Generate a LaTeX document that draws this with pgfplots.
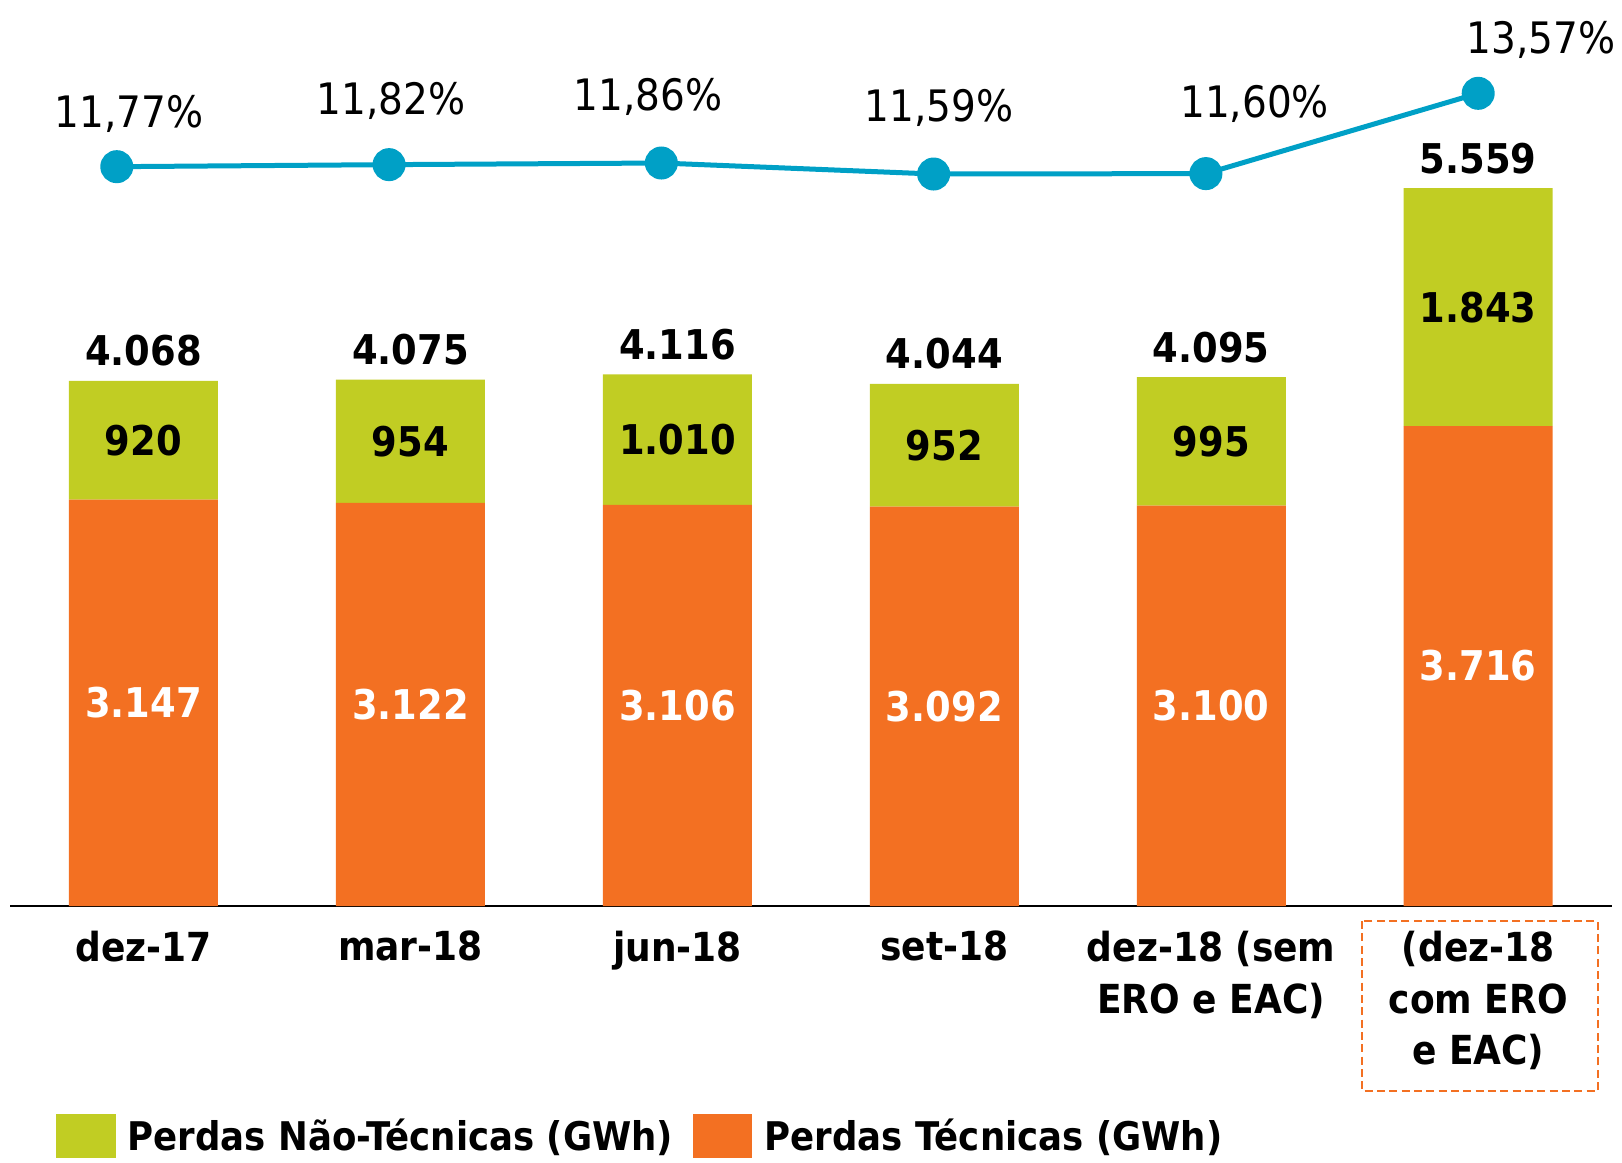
\documentclass[border=0pt]{standalone}
\usepackage{pgfplots}
\pgfplotsset{compat=1.18}
\usepackage{fontspec}
\setmainfont{DejaVu Sans}[FakeStretch=0.9]
\definecolor{tec}{RGB}{243,112,34}
\definecolor{ntec}{RGB}{193,205,35}
\definecolor{linec}{RGB}{0,160,198}
\newcommand{\lblfont}{\bfseries\fontsize{12.3}{15.5}\selectfont}
\newcommand{\tickfont}{\bfseries\fontsize{12}{15.5}\selectfont}
\newcommand{\legfont}{\bfseries\fontsize{11.85}{14}\selectfont}
\newcommand{\pctfont}{\fontsize{13}{15}\selectfont}
\begin{document}
\begin{tikzpicture}
\path[use as bounding box] (-3pt,-76.8pt) rectangle (483.6pt,271.8pt);
\begin{axis}[
  at={(0,0)}, anchor=south west,
  scale only axis, width=480.5pt, height=271.8pt,
  xmin=-0.5, xmax=5.5, ymin=0, ymax=7016,
  ybar stacked, bar width=44.7pt,
  axis x line*=bottom, axis y line=none,
  x axis line style={line width=0.6pt, -},
  xtick={0,...,5}, major tick length=0pt,
  xticklabels={dez-17, mar-18, jun-18, set-18, {dez-18 (sem\\ERO e EAC)}, {(dez-18\\com ERO\\e EAC)}},
  xticklabel style={font=\tickfont, align=center, anchor=north, yshift=-4pt},
  clip=false,
]
\addplot[fill=tec, draw=none] coordinates {(0,3147) (1,3122) (2,3106) (3,3092) (4,3100) (5,3716)};
\addplot[fill=ntec, draw=none] coordinates {(0,920) (1,954) (2,1010) (3,952) (4,995) (5,1843)};
\end{axis}
% labels layer (same scale as bars)
\begin{axis}[
  at={(0,0)}, anchor=south west,
  scale only axis, width=480.5pt, height=271.8pt,
  xmin=-0.5, xmax=5.5, ymin=0, ymax=7016,
  axis lines=none, clip=false,
]
\node[font=\lblfont, text=white] at (axis cs:0,1573.5) {3.147};
\node[font=\lblfont, text=white] at (axis cs:1,1561) {3.122};
\node[font=\lblfont, text=white] at (axis cs:2,1553) {3.106};
\node[font=\lblfont, text=white] at (axis cs:3,1546) {3.092};
\node[font=\lblfont, text=white] at (axis cs:4,1550) {3.100};
\node[font=\lblfont, text=white] at (axis cs:5,1858) {3.716};
\node[font=\lblfont] at (axis cs:0,3607) {920};
\node[font=\lblfont] at (axis cs:1,3599) {954};
\node[font=\lblfont] at (axis cs:2,3611) {1.010};
\node[font=\lblfont] at (axis cs:3,3568) {952};
\node[font=\lblfont] at (axis cs:4,3597.5) {995};
\node[font=\lblfont] at (axis cs:5,4637.5) {1.843};
\node[font=\lblfont, yshift=9pt] at (axis cs:0,4067) {4.068};
\node[font=\lblfont, yshift=9pt] at (axis cs:1,4076) {4.075};
\node[font=\lblfont, yshift=9pt] at (axis cs:2,4116) {4.116};
\node[font=\lblfont, yshift=9pt] at (axis cs:3,4044) {4.044};
\node[font=\lblfont, yshift=9pt] at (axis cs:4,4095) {4.095};
\node[font=\lblfont, yshift=9pt] at (axis cs:5,5559) {5.559};
\end{axis}
\begin{axis}[
  at={(0,0)}, anchor=south west,
  scale only axis, width=480.5pt, height=271.8pt,
  xmin=-0.5, xmax=5.5, ymin=-6.37, ymax=15.86,
  axis lines=none, clip=false,
]
\addplot[linec, line width=1.5pt, mark=*, mark size=4.2pt, mark options={fill=linec, draw=linec}]
  coordinates {(-0.1,11.77) (0.92,11.82) (1.94,11.86) (2.96,11.59) (3.98,11.60) (5,13.57)};
\node[font=\pctfont, xshift=3.7pt, yshift=15.8pt] at (axis cs:-0.1,11.77) {11,77\%};
\node[font=\pctfont, xshift=0.6pt, yshift=19.2pt] at (axis cs:0.92,11.82) {11,82\%};
\node[font=\pctfont, xshift=-4pt, yshift=19.9pt] at (axis cs:1.94,11.86) {11,86\%};
\node[font=\pctfont, xshift=1.6pt, yshift=19.9pt] at (axis cs:2.96,11.59) {11,59\%};
\node[font=\pctfont, xshift=14.6pt, yshift=20.8pt] at (axis cs:3.98,11.60) {11,60\%};
\node[font=\pctfont, xshift=18.9pt, yshift=16.1pt] at (axis cs:5,13.57) {13,57\%};
\end{axis}
\fill[ntec] (13.8pt,-62.4pt) rectangle (31.8pt,-75.6pt);
\node[anchor=west, inner sep=0pt, font=\legfont] at (35.1pt,-69.3pt) {Perdas Não-Técnicas (GWh)};
\fill[tec] (204.9pt,-62.4pt) rectangle (222.6pt,-75.6pt);
\node[anchor=west, inner sep=0pt, font=\legfont] at (226.2pt,-69.3pt) {Perdas Técnicas (GWh)};
\draw[tec, line width=0.6pt, dash pattern=on 2.4pt off 1.3pt] (405.6pt,-4.5pt) rectangle (476.4pt,-55.5pt);
\end{tikzpicture}
\end{document}
